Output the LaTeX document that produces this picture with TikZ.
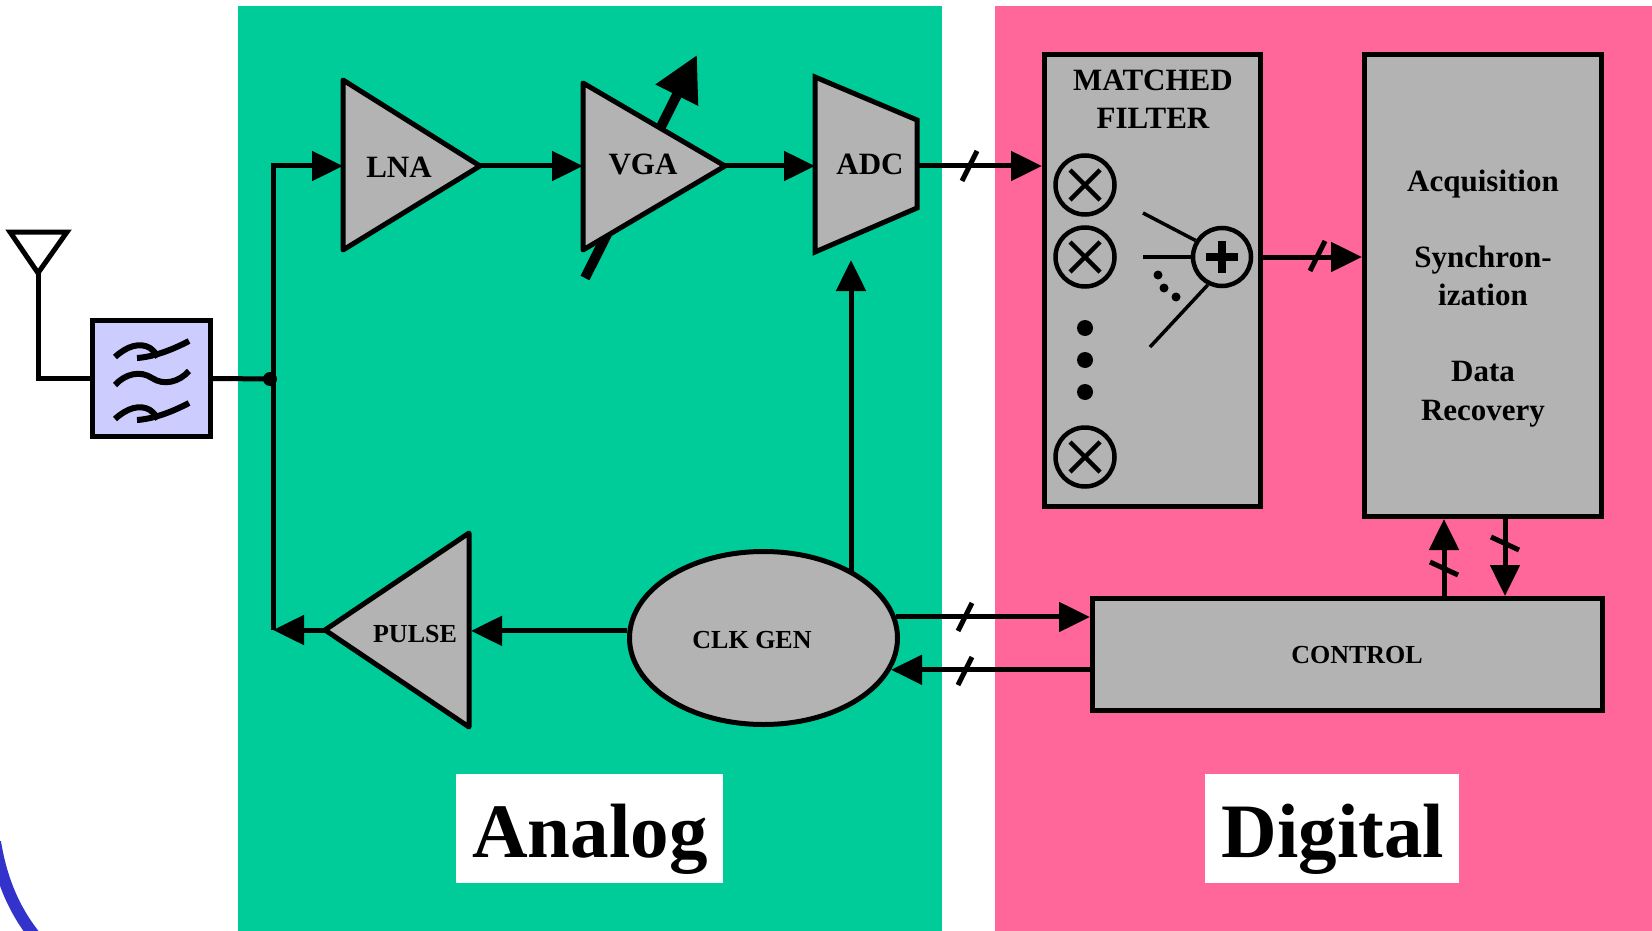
\documentclass[tikz,border=0pt]{standalone}
\usepackage{fontspec}
\setmainfont{Liberation Serif}
\usetikzlibrary{arrows.meta,shapes.geometric}
\definecolor{agreen}{RGB}{0,204,153}
\definecolor{dpink}{RGB}{255,102,153}
\definecolor{boxgray}{RGB}{179,179,179}
\definecolor{lav}{RGB}{204,204,255}
\definecolor{arcblue}{RGB}{51,51,204}
\tikzset{
  tildesym/.pic={\draw[line width=6pt] (-37,7) .. controls (-27,-4) and (-12,-8) .. (0,0) .. controls (12,8) and (27,4) .. (37,-7);},
  tildecross/.pic={\draw[line width=6pt] (-37,8) .. controls (-25,-3) and (-12,-7) .. (-2,-1) .. controls (2,2) and (4,5) .. (6,8);
                   \draw[line width=6pt] (-15,9) .. controls (0,8) and (18,2) .. (37,-8);}
}
\begin{document}
\begin{tikzpicture}[x=1pt,y=-1pt,
  wire/.style={line width=5pt},
  arr/.style={line width=5pt,-{Triangle[length=31pt,width=29pt]}},
  blk/.style={fill=boxgray,draw=black,line width=5pt,line join=round},
  boxnode/.style={fill=boxgray,draw=black,line width=5pt,rectangle,inner sep=0pt},
  bigtxt/.style={font=\fontsize{31}{37}\selectfont\bfseries,inner sep=0pt,anchor=base},
  midtxt/.style={font=\fontsize{26}{31}\selectfont\bfseries,inner sep=0pt,anchor=base},
  hugetxt/.style={font=\fontsize{77}{90}\selectfont\bfseries,inner sep=0pt,anchor=base},
  slashmark/.style={line width=5pt},
  opcircle/.style={circle,draw=black,line width=4.5pt,minimum size=59pt,inner sep=0pt},
  thinline/.style={line width=3.5pt},
]
\useasboundingbox (0,0) rectangle (1652,931);
\fill[white] (0,0) rectangle (1652,931);
\fill[agreen] (238,6) rectangle (942,931);
\fill[dpink] (995,6) rectangle (1652,931);
\draw[arcblue,line width=12pt] (-5,842) .. controls (1,878) and (13,910) .. (38,940);

% label boxes
\node[fill=white,minimum width=267pt,minimum height=109pt,inner sep=0pt] (anabox) at (589.5,828.5) {};
\node[hugetxt] (analog) at (590,857) {Analog};
\node[fill=white,minimum width=254pt,minimum height=109pt,inner sep=0pt] (digbox) at (1332,828.5) {};
\node[hugetxt] (digital) at (1333,857) {Digital};

% antenna and filter
\coordinate (antL) at (10,232);
\coordinate (antR) at (67,232);
\coordinate (antApex) at (38,273);
\draw[wire,line join=miter] (antL) -- (antR) -- (antApex) -- cycle;
\node[draw=black,fill=lav,line width=5pt,minimum width=118pt,minimum height=116pt,inner sep=0pt] (filt) at (151.5,378.5) {};
\draw[wire] (antApex) -- (antApex |- filt.west) -- (filt.west);
\pic at (152,349) {tildecross};
\pic at (152,378) {tildesym};
\pic at (152,411) {tildecross};
\coordinate (junc) at (273,379);
\draw[wire] (filt.east) -- (junc);
\fill (270,379) circle (7pt);

% LNA
\coordinate (busBot) at (273,630);
\coordinate (lnaIn) at (343,166);
\coordinate (lnaOut) at (480,166);
\draw[blk] (343,80) -- (lnaOut) -- (343,250) -- cycle;
\node[bigtxt] (lna) at (399,177) {LNA};
\draw[arr] (busBot) |- (lnaIn);

% VGA
\coordinate (vgaIn) at (583,166);
\coordinate (vgaOut) at (725,166);
\coordinate (gainA) at (585,278);
\coordinate (gainB) at (697,55);
\draw[line width=10pt,-{Triangle[length=45pt,width=45pt]}] (gainA) -- (gainB);
\draw[blk] (583,83) -- (vgaOut) -- (583,250) -- cycle;
\node[bigtxt] (vga) at (643,175) {VGA};
\draw[arr] (lnaOut) -- (vgaIn);

% ADC
\coordinate (adcIn) at (815,166);
\coordinate (adcOut) at (917,166);
\draw[blk,line join=miter] (815,77) -- (917,120) -- (917,208) -- (815,252) -- cycle;
\node[bigtxt] (adc) at (870,175) {ADC};
\draw[arr] (vgaOut) -- (adcIn);

% Matched filter
\node[boxnode,minimum width=216pt,minimum height=452pt] (mf) at (1152.5,280.5) {};
\draw[arr] (adcOut) -- (mf.west |- adcOut);
\draw[slashmark] (962,181) -- (977,151);
\node[bigtxt] (mft1) at (1153,91) {MATCHED};
\node[bigtxt] (mft2) at (1153,129) {FILTER};
\node[opcircle] (m1) at (1085,185) {};
\node[opcircle] (m2) at (1085,257) {};
\node[opcircle] (m3) at (1085,457) {};
\draw[line width=4.5pt] (m1.center) ++(-15,-15) -- ++(30,30) (m1.center) ++(15,-15) -- ++(-30,30);
\draw[line width=4.5pt] (m2.center) ++(-15,-15) -- ++(30,30) (m2.center) ++(15,-15) -- ++(-30,30);
\draw[line width=4.5pt] (m3.center) ++(-15,-15) -- ++(30,30) (m3.center) ++(15,-15) -- ++(-30,30);
\fill (1085,328) circle (8pt);
\fill (1085,360) circle (8pt);
\fill (1085,392) circle (8pt);
\node[opcircle,minimum size=58pt] (add) at (1222,257) {};
\draw[line width=8pt] (add.center) ++(-16,0) -- ++(32,0) (add.center) ++(0,-16) -- ++(0,32);
\coordinate (in1) at (1143,213);
\coordinate (in2) at (1143,257);
\coordinate (in3) at (1150,347);
\draw[thinline] (in1) -- (add.148);
\draw[thinline] (in2) -- (add.west);
\draw[thinline] (in3) -- (add.243);
\fill (1158,275) circle (4.5pt);
\fill (1164,288) circle (4.5pt);
\fill (1176,297) circle (4.5pt);

% Acquisition block
\node[boxnode,minimum width=237pt,minimum height=462pt] (acq) at (1483,285.5) {};
\node[bigtxt] (acq1) at (1483,191) {Acquisition};
\node[bigtxt] (acq2) at (1483,267) {Synchron-};
\node[bigtxt] (acq3) at (1483,305) {ization};
\node[bigtxt] (acq4) at (1483,381) {Data};
\node[bigtxt] (acq5) at (1483,420) {Recovery};
\draw[arr] (mf.east |- add) -- (acq.west |- add);
\draw[slashmark] (1310,271) -- (1325,241);

% Control
\node[boxnode,minimum width=510pt,minimum height=112pt] (ctrl) at (1347.5,654.5) {};
\node[midtxt] (ctrltxt) at (1357,663) {CONTROL};
\coordinate (upx) at (1444,0);
\coordinate (dnx) at (1505,0);
\draw[arr] (ctrl.north -| upx) -- (acq.south -| upx);
\draw[arr] (acq.south -| dnx) -- (ctrl.north -| dnx);
\draw[slashmark] (1430,562) -- (1458,575);
\draw[slashmark] (1491,537) -- (1519,550);

% Clock generator
\node[ellipse,fill=boxgray,draw=black,line width=5pt,minimum width=268pt,minimum height=173pt,inner sep=0pt] (clk) at (763.5,638) {};
\node[midtxt] (clktxt) at (752,648) {CLK GEN};
\coordinate (adcCk) at (851,260);
\draw[arr] (adcCk |- clk.36.8) -- (adcCk);
\draw[arr] (clk.9.2) -- (ctrl.west |- clk.9.2);
\draw[arr] (ctrl.west |- clk.-14.9) -- (clk.-14.9);
\draw[slashmark] (958,631) -- (972,603);
\draw[slashmark] (958,685) -- (972,657);

% Pulse
\coordinate (pulseIn) at (471,632);
\coordinate (pulseOut) at (325,630);
\draw[blk] (469,533) -- (469,727) -- (pulseOut) -- cycle;
\node[midtxt] (pulsetxt) at (415,642) {PULSE};
\draw[arr] (clk.177.4) -- (pulseIn |- clk.177.4);
\draw[arr] (pulseOut) -- (busBot);
\end{tikzpicture}
\end{document}
